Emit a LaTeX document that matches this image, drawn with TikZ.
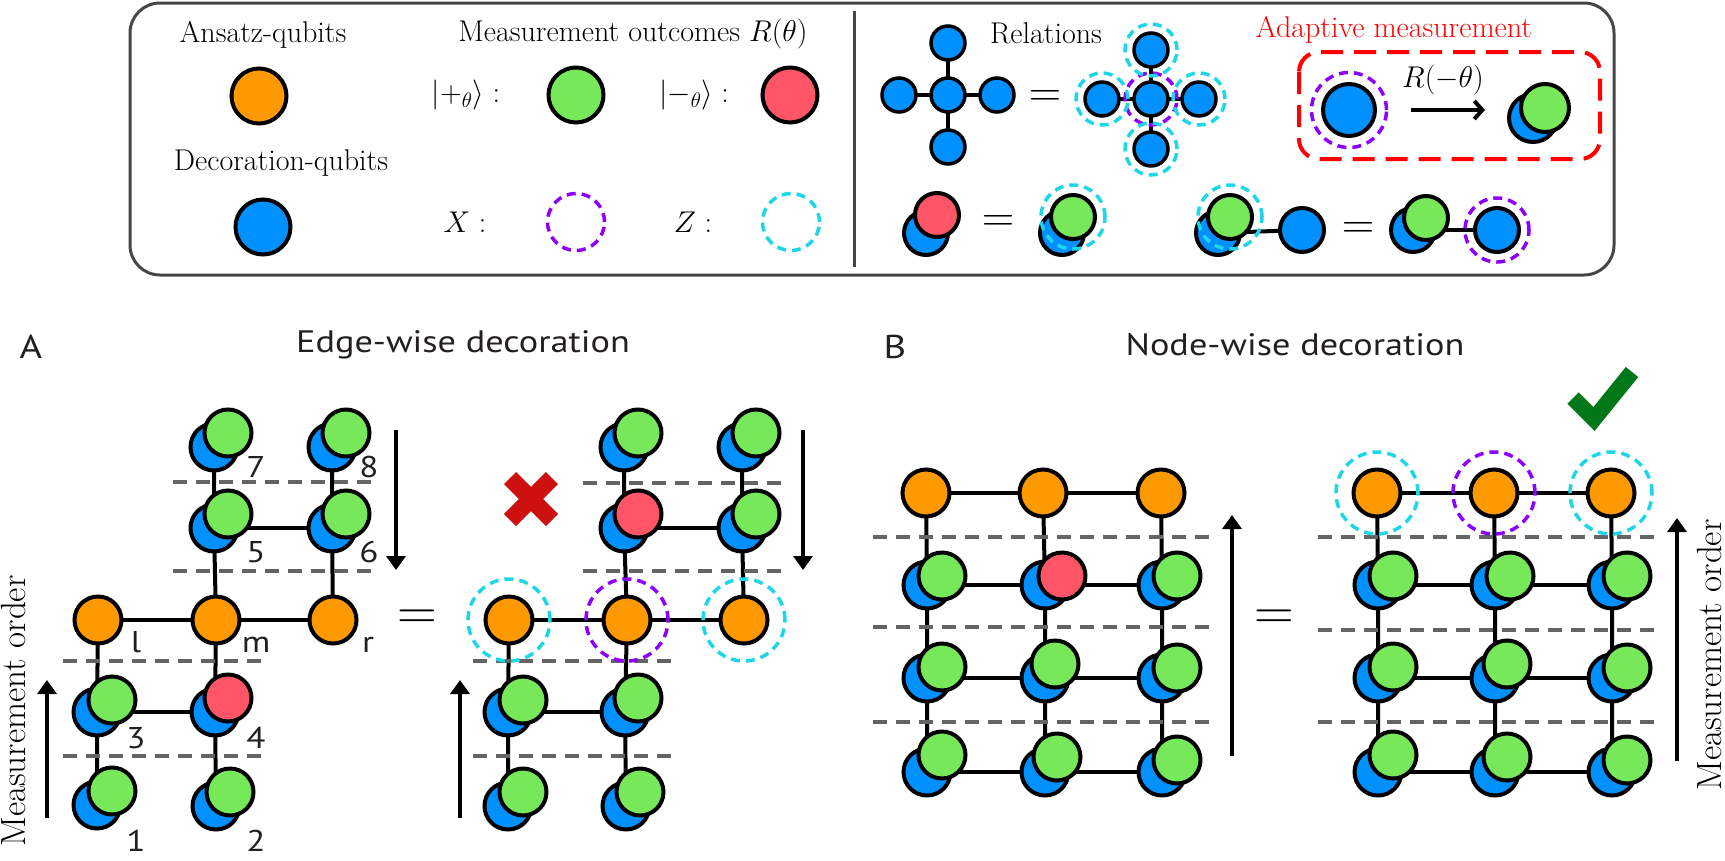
\RequirePackage{fix-cm}
\documentclass[tikz,border=0pt]{standalone}
\usepackage{fontspec}
\newfontfamily\sansf[FakeStretch=1.17]{PT Sans}
\usetikzlibrary{arrows.meta,calc}
\pgfdeclarelayer{bg}
\pgfsetlayers{bg,main}
\definecolor{qorange}{RGB}{255,153,0}
\definecolor{qgreen}{RGB}{118,232,90}
\definecolor{qblue}{RGB}{0,144,255}
\definecolor{qred}{RGB}{255,85,102}
\definecolor{qpurple}{RGB}{140,0,255}
\definecolor{qcyan}{RGB}{30,215,230}
\definecolor{sepgray}{RGB}{100,100,100}
\definecolor{boxgray}{RGB}{70,70,70}
\definecolor{xred}{RGB}{205,17,17}
\definecolor{ckgreen}{RGB}{0,120,25}
\definecolor{textgray}{RGB}{35,31,32}
\definecolor{adred}{RGB}{255,0,0}
\tikzset{
  qb/.style={circle, draw=black, line width=4pt, inner sep=0pt, minimum size=47pt},
  anz/.style={qb, fill=qorange},
  dec/.style={qb, fill=qblue},
  pm/.style={qb, fill=qgreen},
  mm/.style={qb, fill=qred},
  small/.style={minimum size=34pt, line width=3.5pt},
  conn/.style={line width=4pt, black},
  sepline/.style={draw=sepgray, line width=4pt, dash pattern=on 14pt off 9pt},
  xring/.style={circle, draw=qpurple, line width=3.5pt, dash pattern=on 9pt off 6pt, inner sep=0pt, minimum size=82pt},
  zring/.style={circle, draw=qcyan, line width=3.5pt, dash pattern=on 9pt off 6pt, inner sep=0pt, minimum size=82pt},
  tlab/.style={font=\fontsize{30}{36}\selectfont, inner sep=0pt},
  eqtop/.style={font=\fontsize{45}{50}\selectfont, inner sep=0pt},
  eqbot/.style={font=\fontsize{55}{60}\selectfont, inner sep=0pt},
  slab/.style={font=\sansf\fontsize{30}{36}\selectfont, text=textgray, inner sep=0pt, anchor=base},
  shead/.style={font=\sansf\fontsize{31}{36}\selectfont, text=textgray, inner sep=0pt},
  morder/.style={font=\fontsize{35}{40}\selectfont, rotate=90, anchor=base, inner sep=0pt},
  arr/.style={line width=3.5pt, -{Triangle[width=19pt,length=14pt]}},
  adarrow/.style={line width=4pt, -{Straight Barb[length=8pt,width=18pt]}},
  adbox/.style={draw=adred, line width=4pt, dash pattern=on 22pt off 11pt, rounded corners=20pt},
}
\newcommand\QPair[6]{%
  \node[dec,#5] (#1) at (#2,#3) {};
  \node[#4,#5] (#1f) at ([shift={#6}]#1.center) {};
}
\begin{document}
\begin{tikzpicture}[x=1pt,y=-1pt]
\useasboundingbox (0,0) rectangle (1725,860);

% ---------------- legend box ----------------
\draw[draw=boxgray, line width=3pt, rounded corners=30pt] (130,3) rectangle (1614,275);
\draw[boxgray, line width=3pt] (854,11) -- (854,267);

\node[tlab] (tA) at (263,35) {Ansatz-qubits};
\node[anz, minimum size=55pt] (lgA) at (259,96) {};
\node[tlab] (tD) at (281,163) {Decoration-qubits};
\node[dec, minimum size=55pt] (lgD) at (263,227) {};
\node[tlab] (tM) at (633,34) {Measurement outcomes $R(\theta)$};
\node[tlab] (tP) at (466,95) {$|{+_\theta}\rangle :$};
\node[pm, minimum size=55pt] (lgP) at (576,95) {};
\node[tlab] (tMi) at (694,95) {$|{-_\theta}\rangle :$};
\node[mm, minimum size=55pt] (lgM) at (790,95) {};
\node[tlab] (tX) at (465,222) {$X:$};
\node[xring, minimum size=57pt] (lgX) at (576,222) {};
\node[tlab] (tZ) at (693,222) {$Z:$};
\node[zring, minimum size=57pt] (lgZ) at (791,222) {};

% relations
\node[tlab] (tR) at (1046,33) {Relations};
\node[dec, small] (c0) at (948,95) {};
\node[dec, small] (c1) at (948,43) {};
\node[dec, small] (c2) at (948,147) {};
\node[dec, small] (c3) at (899,95) {};
\node[dec, small] (c4) at (997,95) {};
\node[eqtop] (eq1) at (1045,98) {$=$};
\node[dec, small] (d0) at (1151,99) {};
\node[dec, small] (d1) at (1151,50) {};
\node[dec, small] (d2) at (1151,149) {};
\node[dec, small] (d3) at (1102,99) {};
\node[dec, small] (d4) at (1199,99) {};
\node[xring, minimum size=52pt] (d0r) at (d0) {};
\node[zring, minimum size=52pt] (d1r) at (d1) {};
\node[zring, minimum size=52pt] (d2r) at (d2) {};
\node[zring, minimum size=52pt] (d3r) at (d3) {};
\node[zring, minimum size=52pt] (d4r) at (d4) {};

\QPair{r1}{926}{233}{mm}{minimum size=44pt}{(11,-18)}
\node[eqtop] (eq2) at (998,223) {$=$};
\QPair{r2}{1062}{233}{pm}{minimum size=44pt}{(11,-16)}
\node[zring, minimum size=64pt] (r2r) at (r2f) {};
\QPair{r3}{1218}{233}{pm}{minimum size=44pt}{(12,-16)}
\node[zring, minimum size=64pt] (r3r) at (r3f) {};
\node[dec, minimum size=44pt] (r4) at (1302,230) {};
\node[eqtop] (eq3) at (1358,230) {$=$};
\QPair{r5}{1413}{230}{pm}{minimum size=44pt}{(13,-12)}
\node[dec, minimum size=44pt] (r6) at (1497,230) {};
\node[xring, minimum size=64pt] (r6r) at (r6) {};

% adaptive measurement
\node[tlab, text=adred] (tAd) at (1394,30) {Adaptive measurement};
\draw[adbox] (1299,52) rectangle (1600,159);
\node[dec, minimum size=52pt] (ad1) at (1349,110) {};
\node[xring, minimum size=75pt] (ad1r) at (ad1) {};
\QPair{ad2}{1533}{118}{pm}{minimum size=48pt}{(12,-10)}
\node[tlab] (tRm) at (1443,80) {$R(-\theta)$};
\draw[adarrow] ([xshift=23pt]ad1r.east) -- ([xshift=-22pt]ad2.west |- ad1r.east);

% ---------------- panel A ----------------
\node[shead, font=\sansf\fontsize{33}{36}\selectfont] (lblA) at (31,347) {A};
\node[shead] (hA) at (463,345) {Edge-wise decoration};
\node[morder] (moL) at (25,711) {Measurement order};

% A left
\QPair{p7}{214}{447}{pm}{}{(14,-14)}
\QPair{p8}{332}{447}{pm}{}{(14,-14)}
\QPair{p5}{214}{528}{pm}{}{(14,-14)}
\QPair{p6}{332}{528}{pm}{}{(14,-14)}
\node[anz] (oL) at (98,620) {};
\node[anz] (oM) at (216,620) {};
\node[anz] (oR) at (333,620) {};
\QPair{p3}{97}{712}{pm}{}{(15,-12)}
\QPair{p4}{215}{712}{mm}{}{(13,-14)}
\QPair{p1}{97}{805}{pm}{}{(15,-14)}
\QPair{p2}{216}{806}{pm}{}{(14,-14)}
\node[slab] (n7) at (256,477) {7};
\node[slab] (n8) at (369,477) {8};
\node[slab] (n5) at (256,562) {5};
\node[slab] (n6) at (369,562) {6};
\node[slab] (nl) at (136,652) {l};
\node[slab] (nm) at (256,652) {m};
\node[slab] (nr) at (368,652) {r};
\node[slab] (n3) at (136,748) {3};
\node[slab] (n4) at (256,748) {4};
\node[slab] (n1) at (136,851) {1};
\node[slab] (n2) at (256,851) {2};
\coordinate (aLdn1) at (396,430); \coordinate (aLdn2) at (396,570);
\coordinate (aLup1) at (47,818);  \coordinate (aLup2) at (47,680);
\draw[arr] (aLdn1) -- (aLdn2);
\draw[arr] (aLup1) -- (aLup2);
\node[eqbot] (eqA) at (417,620) {$=$};

% A right
\QPair{q7}{624}{447}{pm}{}{(14,-14)}
\QPair{q8}{742}{447}{pm}{}{(14,-14)}
\QPair{q5}{624}{528}{mm}{}{(14,-14)}
\QPair{q6}{742}{528}{pm}{}{(14,-14)}
\node[anz] (sL) at (509,620) {};
\node[anz] (sM) at (627,620) {};
\node[anz] (sR) at (744,620) {};
\QPair{q3}{508}{712}{pm}{}{(15,-12)}
\QPair{q4}{625}{712}{pm}{}{(13,-14)}
\QPair{q1}{508}{806}{pm}{}{(15,-14)}
\QPair{q2}{626}{806}{pm}{}{(14,-14)}
\node[zring] (sLr) at (sL) {};
\node[xring] (sMr) at (sM) {};
\node[zring] (sRr) at (sR) {};
\coordinate (aRdn1) at (803,430); \coordinate (aRdn2) at (803,570);
\coordinate (aRup1) at (460,818); \coordinate (aRup2) at (460,680);
\draw[arr] (aRdn1) -- (aRdn2);
\draw[arr] (aRup1) -- (aRup2);
\coordinate (xmark) at (531,499);
\draw[xred, line width=17pt] ([shift={(-21,-21)}]xmark) -- ([shift={(21,21)}]xmark);
\draw[xred, line width=17pt] ([shift={(-21,21)}]xmark) -- ([shift={(21,-21)}]xmark);

% ---------------- panel B ----------------
\node[shead, font=\sansf\fontsize{33}{36}\selectfont] (lblB) at (895,347) {B};
\node[shead] (hB) at (1295,345) {Node-wise decoration};
\node[morder] (moR) at (1721,655) {Measurement order};

% B left
\node[anz] (u1) at (926,493) {};
\node[anz] (u2) at (1043,493) {};
\node[anz] (u3) at (1161,493) {};
\QPair{v11}{927}{585}{pm}{}{(15,-9)}
\QPair{v12}{1045}{585}{mm}{}{(17,-9)}
\QPair{v13}{1162}{585}{pm}{}{(15,-9)}
\QPair{v21}{927}{678}{pm}{}{(15,-11)}
\QPair{v22}{1045}{678}{pm}{}{(10,-14)}
\QPair{v23}{1162}{678}{pm}{}{(15,-10)}
\QPair{v31}{927}{772}{pm}{}{(15,-17)}
\QPair{v32}{1045}{772}{pm}{}{(12,-15)}
\QPair{v33}{1162}{772}{pm}{}{(15,-12)}
\coordinate (bLup1) at (1232,756); \coordinate (bLup2) at (1232,515);
\draw[arr] (bLup1) -- (bLup2);
\node[eqbot] (eqB) at (1274,620) {$=$};

% B right
\node[anz] (w1) at (1377,493) {};
\node[anz] (w2) at (1494,493) {};
\node[anz] (w3) at (1611,493) {};
\QPair{y11}{1378}{585}{pm}{}{(15,-9)}
\QPair{y12}{1495}{585}{pm}{}{(15,-9)}
\QPair{y13}{1612}{585}{pm}{}{(15,-9)}
\QPair{y21}{1378}{678}{pm}{}{(15,-11)}
\QPair{y22}{1495}{678}{pm}{}{(12,-14)}
\QPair{y23}{1612}{678}{pm}{}{(15,-10)}
\QPair{y31}{1378}{772}{pm}{}{(15,-17)}
\QPair{y32}{1495}{772}{pm}{}{(12,-15)}
\QPair{y33}{1612}{772}{pm}{}{(15,-12)}
\node[zring] (w1r) at (w1) {};
\node[xring] (w2r) at (w2) {};
\node[zring] (w3r) at (w3) {};
\coordinate (bRup1) at (1677,761); \coordinate (bRup2) at (1677,518);
\draw[arr] (bRup1) -- (bRup2);
\coordinate (ck) at (1594,419);
\draw[ckgreen, line width=16pt, miter limit=10] ([shift={(-21,-21)}]ck) -- (ck) -- ([shift={(38,-47)}]ck);

% ---------------- background connectors ----------------
\begin{pgfonlayer}{bg}
  \foreach \k in {1,2,3,4} { \draw[conn] (c0.center) -- (c\k.center); \draw[conn] (d0.center) -- (d\k.center); }
  \draw[conn] (r3.center) -- (r4.center);
  \draw[conn] (r5.center) -- (r6.center);
  % A left
  \draw[conn] (p7.center) -- (p5.center) -- (oM.center) -- (p4.center) -- (p2.center);
  \draw[conn] (p8.center) -- (p6.center) -- (oR.center);
  \draw[conn] (oL.center) -- (p3.center) -- (p1.center);
  \draw[conn] (oL.center) -- (oM.center) -- (oR.center);
  \draw[conn] (p5.center) -- (p6.center);
  \draw[conn] (p3.center) -- (p4.center);
  % A right
  \draw[conn] (q7.center) -- (q5.center) -- (sM.center) -- (q4.center) -- (q2.center);
  \draw[conn] (q8.center) -- (q6.center) -- (sR.center);
  \draw[conn] (sL.center) -- (q3.center) -- (q1.center);
  \draw[conn] (sL.center) -- (sM.center) -- (sR.center);
  \draw[conn] (q5.center) -- (q6.center);
  \draw[conn] (q3.center) -- (q4.center);
  % B
  \foreach \c in {1,2,3} {
    \draw[conn] (u\c.center) -- (v1\c.center) -- (v2\c.center) -- (v3\c.center);
    \draw[conn] (w\c.center) -- (y1\c.center) -- (y2\c.center) -- (y3\c.center);
  }
  \draw[conn] (u1.center) -- (u2.center) -- (u3.center);
  \draw[conn] (w1.center) -- (w2.center) -- (w3.center);
  \foreach \r in {1,2,3} {
    \draw[conn] (v\r1.center) -- (v\r2.center) -- (v\r3.center);
    \draw[conn] (y\r1.center) -- (y\r2.center) -- (y\r3.center);
  }
  % separators
  \draw[sepline] (173,482) -- (375,482);
  \draw[sepline] (173,571) -- (375,571);
  \draw[sepline] (63,661) -- (265,661);
  \draw[sepline] (63,756) -- (265,756);
  \draw[sepline] (583,483) -- (785,483);
  \draw[sepline] (583,571) -- (785,571);
  \draw[sepline] (473,661) -- (675,661);
  \draw[sepline] (473,756) -- (675,756);
  \draw[sepline] (873,537) -- (1215,537);
  \draw[sepline] (873,627) -- (1215,627);
  \draw[sepline] (873,722) -- (1215,722);
  \draw[sepline] (1318,537) -- (1660,537);
  \draw[sepline] (1318,630) -- (1660,630);
  \draw[sepline] (1318,722) -- (1660,722);
\end{pgfonlayer}
\end{tikzpicture}
\end{document}
